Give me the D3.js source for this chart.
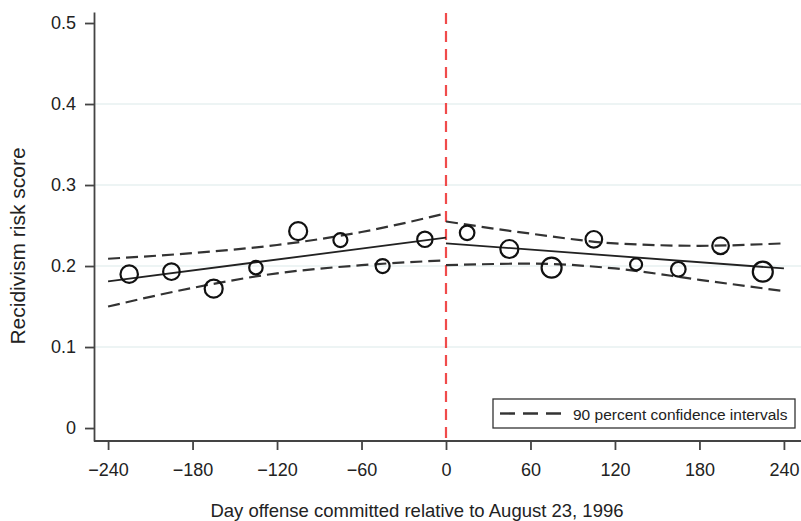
<!DOCTYPE html>
<html>
<head>
<meta charset="utf-8">
<script src="https://d3js.org/d3.v7.min.js"></script>
<style>
  body { margin: 0; background: #fff; }
  svg text { font-family: "Liberation Sans", Arial, sans-serif; fill: #222; }
  .axis path, .axis line { stroke: #444; }
</style>
</head>
<body>
<div id="chart"></div>
<script>
// binned means (30-day bins) of the risk score, with bin counts for the marker size
var binDays = [-225, -195, -165, -135, -105, -75, -45, -15, 15, 45, 75, 105, 135, 165, 195, 225];
var riskScore = [0.190, 0.193, 0.172, 0.198, 0.243, 0.232, 0.200, 0.233,
                 0.241, 0.221, 0.198, 0.233, 0.202, 0.196, 0.225, 0.193];
var binCount = [76, 69, 81, 45, 81, 49, 49, 59, 53, 81, 100, 69, 36, 53, 69, 100];

// linear fit on each side of the cutoff
var fitLeftDays = [-240, 0];
var fitLeft = [0.181, 0.235];
var fitRightDays = [0, 240];
var fitRight = [0.228, 0.197];

// 90 percent confidence bands
var ciLeftDays = [-240, -180, -120, -60, 0];
var ciLeftUpper = [0.209, 0.216, 0.226, 0.242, 0.265];
var ciLeftLower = [0.150, 0.173, 0.191, 0.201, 0.207];
var ciRightDays = [0, 60, 120, 180, 240];
var ciRightUpper = [0.255, 0.240, 0.228, 0.225, 0.228];
var ciRightLower = [0.201, 0.203, 0.197, 0.183, 0.169];

var xTicks = [-240, -180, -120, -60, 0, 60, 120, 180, 240];
var yTicks = [0, 0.1, 0.2, 0.3, 0.4, 0.5];
var legendLabel = "90 percent confidence intervals";

var width = 801, height = 521;

var svg = d3.select("#chart").append("svg")
    .attr("width", width)
    .attr("height", height);

var x = d3.scaleLinear().domain([-250, 250]).range([94, 798]);
var y = d3.scaleLinear().domain([-0.016, 0.5136]).range([441, 12]);
var r = d3.scaleSqrt().domain([0, 100]).range([0, 10]);

//light horizontal grid lines
svg.append("g").selectAll("line")
    .data(yTicks.filter(function (d) { return d > 0 && d < 0.5; }))
    .enter().append("line")
    .attr("x1", x(-250)).attr("x2", width)
    .attr("y1", function (d) { return y(d); })
    .attr("y2", function (d) { return y(d); })
    .attr("stroke", "#e7f1f1")
    .attr("stroke-width", 1.5);

//axes
var xAxis = svg.append("g")
    .attr("class", "axis")
    .attr("transform", "translate(0," + y(-0.016) + ")")
    .call(d3.axisBottom(x).tickValues(xTicks).tickSize(9).tickSizeOuter(0).tickPadding(13));
xAxis.select(".domain").attr("d", "M" + x(-250) + ",0H" + width);

var yAxis = svg.append("g")
    .attr("class", "axis")
    .attr("transform", "translate(" + x(-250) + ",0)")
    .call(d3.axisLeft(y).tickValues(yTicks).tickFormat(d3.format("~g")).tickSize(9).tickSizeOuter(0).tickPadding(9));

svg.selectAll(".axis path, .axis line").attr("stroke-width", 1.8);
svg.selectAll(".axis text").style("font-size", "18px").attr("fill", "#222");

//cutoff line
svg.append("line")
    .attr("x1", x(0)).attr("x2", x(0))
    .attr("y1", 13).attr("y2", y(-0.016))
    .attr("stroke", "#f04b4b")
    .attr("stroke-width", 2.2)
    .attr("stroke-dasharray", "11,7");

var line = d3.line()
    .x(function (d) { return x(d[0]); })
    .y(function (d) { return y(d[1]); })
    .curve(d3.curveMonotoneX);

function pairs(days, vals) {
    return days.map(function (d, i) { return [d, vals[i]]; });
}

var bands = [
    pairs(ciLeftDays, ciLeftUpper), pairs(ciLeftDays, ciLeftLower),
    pairs(ciRightDays, ciRightUpper), pairs(ciRightDays, ciRightLower)
];
svg.append("g").selectAll("path")
    .data(bands)
    .enter().append("path")
    .attr("d", line)
    .attr("fill", "none")
    .attr("stroke", "#333")
    .attr("stroke-width", 2.2)
    .attr("stroke-dasharray", "12,6");

svg.append("g").selectAll("path")
    .data([pairs(fitLeftDays, fitLeft), pairs(fitRightDays, fitRight)])
    .enter().append("path")
    .attr("d", line)
    .attr("fill", "none")
    .attr("stroke", "#222")
    .attr("stroke-width", 1.8);

//binned means
svg.append("g").selectAll("circle")
    .data(binDays)
    .enter().append("circle")
    .attr("cx", function (d) { return x(d); })
    .attr("cy", function (d, i) { return y(riskScore[i]); })
    .attr("r", function (d, i) { return r(binCount[i]); })
    .attr("fill", "none")
    .attr("stroke", "#111")
    .attr("stroke-width", 2.2);

//legend
var legend = svg.append("g");
legend.append("rect")
    .attr("x", 493).attr("y", 399)
    .attr("width", 302).attr("height", 29)
    .attr("fill", "#fff")
    .attr("stroke", "#333")
    .attr("stroke-width", 1.3);
legend.append("line")
    .attr("x1", 500).attr("x2", 562)
    .attr("y1", 413.5).attr("y2", 413.5)
    .attr("stroke", "#333")
    .attr("stroke-width", 2.4)
    .attr("stroke-dasharray", "15,8");
legend.append("text")
    .attr("x", 573).attr("y", 419.5)
    .style("font-size", "15.5px")
    .text(legendLabel);

//axis titles
svg.append("text")
    .attr("x", 417).attr("y", 517)
    .attr("text-anchor", "middle")
    .style("font-size", "18.5px")
    .text("Day offense committed relative to August 23, 1996");

svg.append("text")
    .attr("transform", "translate(25,246) rotate(-90)")
    .attr("text-anchor", "middle")
    .style("font-size", "21px")
    .text("Recidivism risk score");
</script>
</body>
</html>
